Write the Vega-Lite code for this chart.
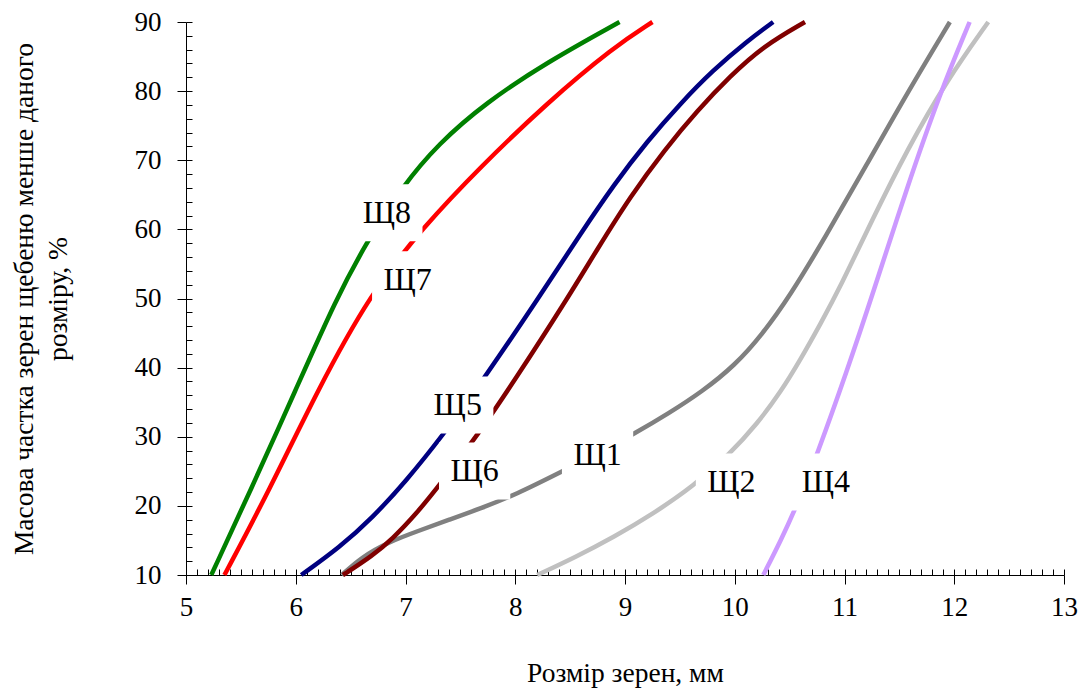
{
  "$schema": "https://vega.github.io/schema/vega-lite/v6.json",
  "width": 878,
  "height": 553,
  "autosize": "none",
  "padding": {"left": 186, "top": 22, "right": 17, "bottom": 116},
  "background": "white",
  "config": {"view": {"stroke": null}, "font": "Liberation Serif, Times New Roman, serif", "axis": {"grid": false}},
  "datasets": {
    "curves": [
      {"s": "Щ1", "x": 6.42, "y": 10}, {"s": "Щ1", "x": 6.6, "y": 12.6}, {"s": "Щ1", "x": 6.85, "y": 14.8}, {"s": "Щ1", "x": 7.12, "y": 16.4}, {"s": "Щ1", "x": 7.4, "y": 18.0}, {"s": "Щ1", "x": 7.68, "y": 19.6}, {"s": "Щ1", "x": 8.0, "y": 21.6}, {"s": "Щ1", "x": 8.43, "y": 25.0}, {"s": "Щ1", "x": 8.8, "y": 28.0}, {"s": "Щ1", "x": 9.08, "y": 30.4}, {"s": "Щ1", "x": 9.4, "y": 33.4}, {"s": "Щ1", "x": 9.7, "y": 36.5}, {"s": "Щ1", "x": 10.0, "y": 40.3}, {"s": "Щ1", "x": 10.25, "y": 44.8}, {"s": "Щ1", "x": 10.5, "y": 50.3}, {"s": "Щ1", "x": 10.83, "y": 59.0}, {"s": "Щ1", "x": 11.2, "y": 69.3}, {"s": "Щ1", "x": 11.57, "y": 79.7}, {"s": "Щ1", "x": 11.96, "y": 90},
      {"s": "Щ2", "x": 8.2, "y": 10}, {"s": "Щ2", "x": 8.55, "y": 12.6}, {"s": "Щ2", "x": 8.9, "y": 15.5}, {"s": "Щ2", "x": 9.25, "y": 18.8}, {"s": "Щ2", "x": 9.62, "y": 22.8}, {"s": "Щ2", "x": 9.96, "y": 27.6}, {"s": "Щ2", "x": 10.2, "y": 31.8}, {"s": "Щ2", "x": 10.42, "y": 36.5}, {"s": "Щ2", "x": 10.6, "y": 41.2}, {"s": "Щ2", "x": 10.78, "y": 46.3}, {"s": "Щ2", "x": 10.96, "y": 51.6}, {"s": "Щ2", "x": 11.25, "y": 61.3}, {"s": "Щ2", "x": 11.57, "y": 71.5}, {"s": "Щ2", "x": 11.93, "y": 81.5}, {"s": "Щ2", "x": 12.31, "y": 90},
      {"s": "Щ4", "x": 10.26, "y": 10}, {"s": "Щ4", "x": 10.42, "y": 15.0}, {"s": "Щ4", "x": 10.57, "y": 20.2}, {"s": "Щ4", "x": 10.75, "y": 27.4}, {"s": "Щ4", "x": 11.02, "y": 39.4}, {"s": "Щ4", "x": 11.26, "y": 50.8}, {"s": "Щ4", "x": 11.57, "y": 66.1}, {"s": "Щ4", "x": 11.87, "y": 79.7}, {"s": "Щ4", "x": 12.14, "y": 90},
      {"s": "Щ5", "x": 6.05, "y": 10}, {"s": "Щ5", "x": 6.4, "y": 14.0}, {"s": "Щ5", "x": 6.7, "y": 18.3}, {"s": "Щ5", "x": 7.0, "y": 23.5}, {"s": "Щ5", "x": 7.34, "y": 30.2}, {"s": "Щ5", "x": 7.71, "y": 38.3}, {"s": "Щ5", "x": 8.21, "y": 50.0}, {"s": "Щ5", "x": 8.6, "y": 59.5}, {"s": "Щ5", "x": 8.9, "y": 66.5}, {"s": "Щ5", "x": 9.2, "y": 72.7}, {"s": "Щ5", "x": 9.51, "y": 78.3}, {"s": "Щ5", "x": 9.8, "y": 83.0}, {"s": "Щ5", "x": 10.11, "y": 87.2}, {"s": "Щ5", "x": 10.35, "y": 90},
      {"s": "Щ6", "x": 6.43, "y": 10}, {"s": "Щ6", "x": 6.7, "y": 12.8}, {"s": "Щ6", "x": 6.88, "y": 15.2}, {"s": "Щ6", "x": 7.1, "y": 18.9}, {"s": "Щ6", "x": 7.3, "y": 22.8}, {"s": "Щ6", "x": 7.67, "y": 30.5}, {"s": "Щ6", "x": 8.0, "y": 38.3}, {"s": "Щ6", "x": 8.46, "y": 49.6}, {"s": "Щ6", "x": 8.75, "y": 57.2}, {"s": "Щ6", "x": 9.05, "y": 64.8}, {"s": "Щ6", "x": 9.36, "y": 71.5}, {"s": "Щ6", "x": 9.66, "y": 77.2}, {"s": "Щ6", "x": 9.96, "y": 82.2}, {"s": "Щ6", "x": 10.26, "y": 86.5}, {"s": "Щ6", "x": 10.64, "y": 90},
      {"s": "Щ7", "x": 5.35, "y": 10}, {"s": "Щ7", "x": 5.76, "y": 22.3}, {"s": "Щ7", "x": 6.2, "y": 36.8}, {"s": "Щ7", "x": 6.68, "y": 50.7}, {"s": "Щ7", "x": 7.16, "y": 60.3}, {"s": "Щ7", "x": 7.68, "y": 69.0}, {"s": "Щ7", "x": 8.29, "y": 78.3}, {"s": "Щ7", "x": 8.9, "y": 86.4}, {"s": "Щ7", "x": 9.25, "y": 90},
      {"s": "Щ8", "x": 5.23, "y": 10}, {"s": "Щ8", "x": 5.59, "y": 22.3}, {"s": "Щ8", "x": 6.0, "y": 36.8}, {"s": "Щ8", "x": 6.37, "y": 50.0}, {"s": "Щ8", "x": 6.64, "y": 58.0}, {"s": "Щ8", "x": 6.97, "y": 66.2}, {"s": "Щ8", "x": 7.3, "y": 72.4}, {"s": "Щ8", "x": 7.73, "y": 78.3}, {"s": "Щ8", "x": 8.29, "y": 84.2}, {"s": "Щ8", "x": 8.95, "y": 90}
    ],
    "labels": [
      {"label": "Щ8", "x": 6.83, "y": 62.4},
      {"label": "Щ7", "x": 7.02, "y": 52.7},
      {"label": "Щ5", "x": 7.476, "y": 34.6},
      {"label": "Щ6", "x": 7.63, "y": 25.05},
      {"label": "Щ1", "x": 8.75, "y": 27.4},
      {"label": "Щ2", "x": 9.97, "y": 23.45},
      {"label": "Щ4", "x": 10.83, "y": 23.45}
    ]
  },
  "layer": [
    {
      "data": {"name": "curves"},
      "mark": {"type": "line", "interpolate": "basis", "strokeWidth": 4.5},
      "encoding": {
        "x": {
          "field": "x", "type": "quantitative",
          "scale": {"domain": [5, 13], "nice": false, "zero": false},
          "axis": {
            "orient": "bottom", "values": [5, 6, 7, 8, 9, 10, 11, 12, 13],
            "tickSize": 9, "tickColor": "black", "tickWidth": 1,
            "domainColor": "black", "domainWidth": 1,
            "labelFont": "Liberation Serif, Times New Roman, serif", "labelFontSize": 27, "labelColor": "black", "labelPadding": 10, "labelFlush": false,
            "title": "Розмір зерен, мм", "titleFont": "Liberation Serif, Times New Roman, serif", "titleFontSize": 27.5, "titleFontWeight": "normal", "titleColor": "black", "titlePadding": 39,
            "grid": false
          }
        },
        "y": {
          "field": "y", "type": "quantitative",
          "scale": {"domain": [10, 90], "nice": false, "zero": false},
          "axis": {
            "orient": "left", "values": [10, 20, 30, 40, 50, 60, 70, 80, 90],
            "tickSize": 9, "tickColor": "black", "tickWidth": 1,
            "domainColor": "black", "domainWidth": 1,
            "labelFont": "Liberation Serif, Times New Roman, serif", "labelFontSize": 27, "labelColor": "black", "labelPadding": 16, "labelFlush": false,
            "title": ["Масова частка зерен щебеню менше даного", "розміру, %"],
            "titleFont": "Liberation Serif, Times New Roman, serif", "titleFontSize": 27.5, "titleFontWeight": "normal", "titleColor": "black", "titlePadding": 62, "titleLineHeight": 34,
            "grid": false
          }
        },
        "color": {
          "field": "s", "type": "nominal",
          "scale": {"domain": ["Щ1", "Щ2", "Щ4", "Щ5", "Щ6", "Щ7", "Щ8"], "range": ["#808080", "#C0C0C0", "#CC99FF", "#000080", "#800000", "#FF0000", "#008000"]},
          "legend": null
        }
      }
    },
    {
      "data": {"name": "labels"},
      "mark": {"type": "point", "shape": "M-1.25,-1H1.25V1H-1.25Z", "size": 3249, "filled": true, "color": "white", "opacity": 1, "strokeWidth": 0},
      "encoding": {
        "x": {
          "field": "x", "type": "quantitative",
          "scale": {"domain": [5, 13], "nice": false, "zero": false},
          "axis": {
            "orient": "bottom",
            "values": [5, 5.1, 5.2, 5.3, 5.4, 5.5, 5.6, 5.7, 5.8, 5.9, 6, 6.1, 6.2, 6.3, 6.4, 6.5, 6.6, 6.7, 6.8, 6.9, 7, 7.1, 7.2, 7.3, 7.4, 7.5, 7.6, 7.7, 7.8, 7.9, 8, 8.1, 8.2, 8.3, 8.4, 8.5, 8.6, 8.7, 8.8, 8.9, 9, 9.1, 9.2, 9.3, 9.4, 9.5, 9.6, 9.7, 9.8, 9.9, 10, 10.1, 10.2, 10.3, 10.4, 10.5, 10.6, 10.7, 10.8, 10.9, 11, 11.1, 11.2, 11.3, 11.4, 11.5, 11.6, 11.7, 11.8, 11.9, 12, 12.1, 12.2, 12.3, 12.4, 12.5, 12.6, 12.7, 12.8, 12.9, 13],
            "tickSize": -6, "tickColor": "black", "tickWidth": 1,
            "domain": false, "labels": false, "title": null, "grid": false
          }
        },
        "y": {
          "field": "y", "type": "quantitative",
          "scale": {"domain": [10, 90], "nice": false, "zero": false},
          "axis": {
            "orient": "left",
            "values": [10, 12, 14, 16, 18, 20, 22, 24, 26, 28, 30, 32, 34, 36, 38, 40, 42, 44, 46, 48, 50, 52, 54, 56, 58, 60, 62, 64, 66, 68, 70, 72, 74, 76, 78, 80, 82, 84, 86, 88, 90],
            "tickSize": -6, "tickColor": "black", "tickWidth": 1,
            "domain": false, "labels": false, "title": null, "grid": false
          }
        }
      }
    },
    {
      "data": {"name": "labels"},
      "mark": {"type": "text", "font": "Liberation Serif, Times New Roman, serif", "fontSize": 32, "color": "black", "baseline": "middle", "align": "center"},
      "encoding": {
        "x": {"field": "x", "type": "quantitative", "axis": null},
        "y": {"field": "y", "type": "quantitative", "axis": null},
        "text": {"field": "label"}
      }
    }
  ],
  "resolve": {"axis": {"x": "independent", "y": "independent"}}
}
